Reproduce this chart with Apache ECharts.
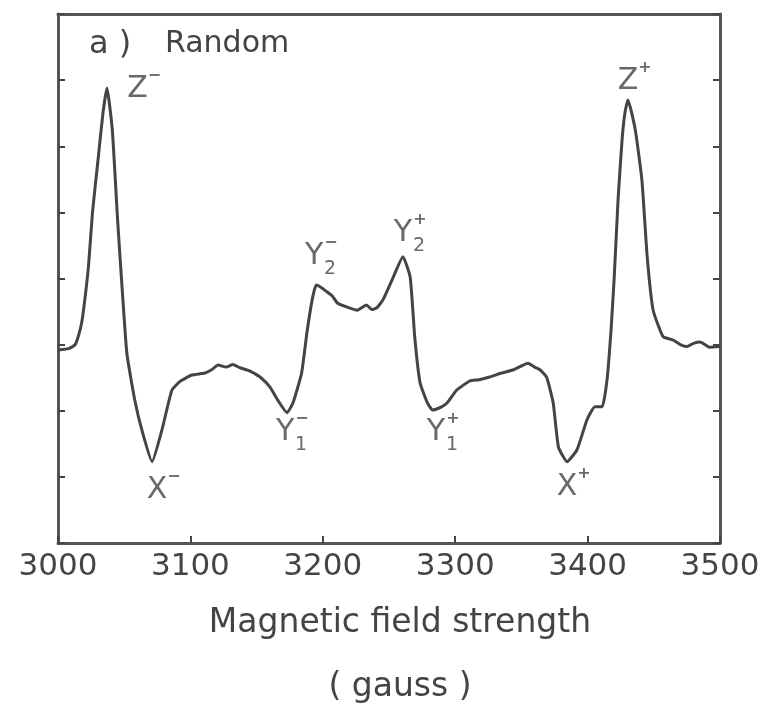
<!DOCTYPE html>
<html>
<head>
<meta charset="utf-8">
<script src="https://cdn.jsdelivr.net/npm/echarts@6/dist/echarts.min.js"></script>
<style>
  html, body { margin: 0; padding: 0; background: #fff; }
  #main { width: 773px; height: 715px; }
</style>
</head>
<body>
<div id="main"></div>
<script>
(function() {
    // EPR spectrum
    const fieldGauss = [
        3000, 3008, 3013, 3017, 3019, 3023, 3026, 3030, 3034, 3037,
        3041, 3045, 3048, 3052, 3058, 3064, 3071, 3078.5, 3086, 3092,
        3101, 3111, 3116, 3121, 3127, 3132, 3137.5, 3145, 3152.6, 3160,
        3166, 3173, 3177.5, 3184, 3188, 3192, 3195, 3199, 3203, 3207,
        3211, 3218, 3226, 3233, 3237, 3241, 3245.5, 3253, 3260.5, 3266,
        3269.5, 3273.5, 3279, 3283, 3289, 3294, 3301, 3311, 3318, 3326,
        3335, 3344, 3355, 3360, 3364, 3369, 3374, 3378, 3384.5, 3392,
        3399.5, 3405.5, 3411, 3414.7, 3417.7, 3420, 3423, 3426, 3428.3, 3430.5,
        3436, 3441, 3445, 3449.5, 3457, 3464.5, 3470, 3475, 3480, 3485,
        3492, 3500
    ];
    const signal = [
        2.92, 2.94, 3.00, 3.25, 3.48, 4.18, 4.99, 5.75, 6.51, 6.88,
        6.25, 4.89, 3.98, 2.87, 2.16, 1.66, 1.23, 1.71, 2.31, 2.44,
        2.54, 2.57, 2.62, 2.69, 2.66, 2.70, 2.65, 2.60, 2.51, 2.36,
        2.16, 1.97, 2.12, 2.57, 3.18, 3.68, 3.90, 3.86, 3.80, 3.74,
        3.63, 3.57, 3.52, 3.60, 3.53, 3.56, 3.68, 4.01, 4.33, 4.02,
        3.10, 2.42, 2.12, 2.01, 2.05, 2.12, 2.31, 2.45, 2.47, 2.51,
        2.57, 2.62, 2.72, 2.66, 2.62, 2.51, 2.12, 1.45, 1.23, 1.41,
        1.86, 2.06, 2.06, 2.47, 3.22, 3.98, 5.19, 6.09, 6.52, 6.70,
        6.25, 5.49, 4.33, 3.52, 3.12, 3.07, 3.00, 2.97, 3.02, 3.04,
        2.96, 2.97
    ];
    const xTicks = [3000, 3100, 3200, 3300, 3400, 3500];

    // peak annotations: letter, superscript sign, subscript index
    const peakLetters = ['Z', 'Z', 'Y', 'Y', 'Y', 'Y', 'X', 'X'];
    const peakSup = ['\u2212', '+', '\u2212', '+', '\u2212', '+', '\u2212', '+'];
    const peakSub = ['', '', '2', '2', '1', '1', '', ''];
    const peakGauss = [3060, 3430.5, 3193.4, 3260.6, 3171.5, 3285.5, 3074.8, 3384.4];
    const peakValue = [6.87, 6.99, 4.34, 4.69, 1.68, 1.68, 0.80, 0.85];

    var chartDom = document.getElementById('main');
    var myChart = echarts.init(chartDom);
    var option;

    const ink = '#444';
    const font = 'DejaVu Sans';

    const lineData = fieldGauss.map(function(g, i) { return [g, signal[i]]; });

    // each annotation is drawn as three text pieces around the letter
    const labelData = [];
    peakLetters.forEach(function(letter, i) {
        const pos = [peakGauss[i], peakValue[i]];
        labelData.push({ value: pos, label: { formatter: letter, fontSize: 30 } });
        labelData.push({ value: pos, label: { formatter: peakSup[i], fontSize: 16, fontWeight: 'bold', offset: [17, -13] } });
        if (peakSub[i]) {
            labelData.push({ value: pos, label: { formatter: peakSub[i], fontSize: 19, offset: [16, 13] } });
        }
    });

    const tickStyle = { show: true, inside: true, length: 7, lineStyle: { color: ink, width: 2 } };
    const frameLine = { show: true, onZero: false, lineStyle: { color: '#555', width: 3 } };

    option = {
        animation: false,
        grid: { left: 58, right: 53, top: 14, bottom: 172, outerBoundsMode: 'none', containLabel: false },
        textStyle: { fontFamily: font, color: ink },
        graphic: [
            { type: 'text', left: 89, top: 29, style: { text: 'a )', font: '32px "DejaVu Sans"', fill: ink } },
            { type: 'text', left: 165, top: 29, style: { text: 'Random', font: '30px "DejaVu Sans"', fill: ink } }
        ],
        xAxis: [{
            type: 'value',
            min: 3000,
            max: 3500,
            interval: 100,
            axisLine: frameLine,
            axisTick: tickStyle,
            splitLine: { show: false },
            axisLabel: {
                margin: 8,
                fontSize: 31,
                color: ink,
                fontFamily: font,
                formatter: function(v) { return xTicks.indexOf(v) >= 0 ? String(v) : ''; }
            },
            name: 'Magnetic field strength\n( gauss )',
            nameLocation: 'middle',
            nameGap: 48,
            nameTextStyle: { fontSize: 33, lineHeight: 64, color: ink, fontFamily: font, padding: [0, 0, 0, 22] }
        }, {
            type: 'value',
            position: 'top',
            min: 3000,
            max: 3500,
            axisLine: frameLine,
            axisTick: { show: false },
            axisLabel: { show: false },
            splitLine: { show: false }
        }],
        yAxis: [{
            type: 'value',
            min: 0,
            max: 8,
            interval: 1,
            axisLine: frameLine,
            axisTick: tickStyle,
            axisLabel: { show: false },
            splitLine: { show: false }
        }, {
            type: 'value',
            position: 'right',
            min: 0,
            max: 8,
            interval: 1,
            axisLine: frameLine,
            axisTick: tickStyle,
            axisLabel: { show: false },
            splitLine: { show: false }
        }],
        series: [{
            name: 'Random',
            type: 'line',
            data: lineData,
            showSymbol: false,
            smooth: 0.15,
            lineStyle: { color: ink, width: 3 }
        }, {
            name: 'peaks',
            type: 'scatter',
            data: labelData,
            symbolSize: 0,
            silent: true,
            label: {
                show: true,
                position: 'inside',
                color: ink,
                fontFamily: font
            }
        }]
    };

    myChart.setOption(option);
})();
</script>
</body>
</html>
